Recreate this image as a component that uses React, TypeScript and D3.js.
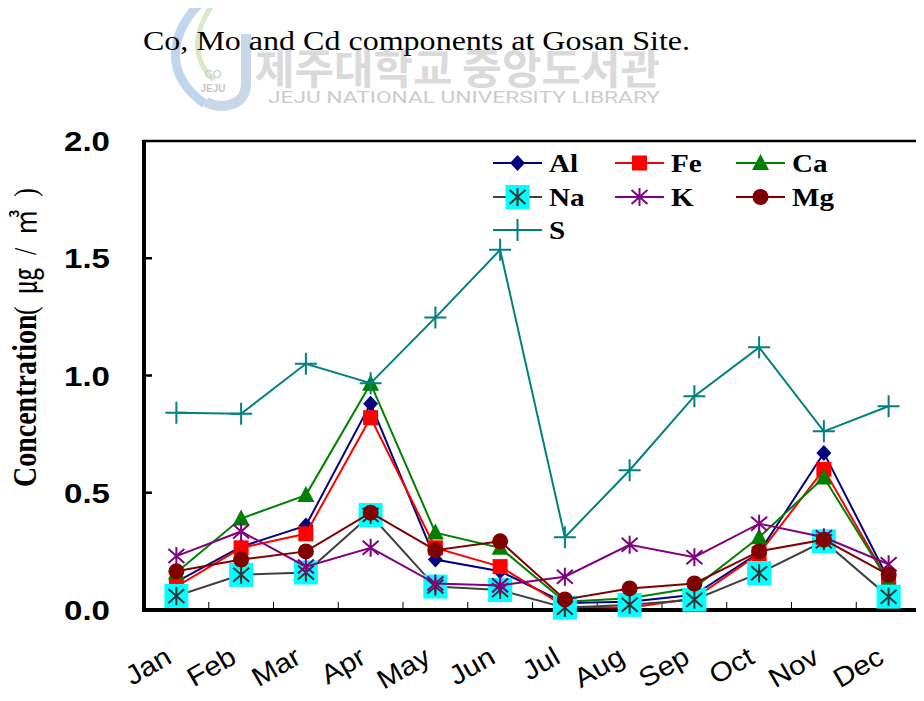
import React from 'react'
import * as d3 from 'd3'

// monthly concentration (ug/m3) at Gosan site
const months = ['Jan', 'Feb', 'Mar', 'Apr', 'May', 'Jun', 'Jul', 'Aug', 'Sep', 'Oct', 'Nov', 'Dec']
const al = [0.12, 0.27, 0.36, 0.88, 0.215, 0.165, 0.03, 0.035, 0.065, 0.245, 0.67, 0.13]
const fe = [0.1, 0.265, 0.325, 0.82, 0.265, 0.185, 0.015, 0.01, 0.05, 0.24, 0.6, 0.12]
const ca = [0.16, 0.39, 0.49, 0.965, 0.33, 0.265, 0.035, 0.05, 0.095, 0.31, 0.565, 0.12]
const na = [0.06, 0.15, 0.16, 0.405, 0.1, 0.085, 0.01, 0.022, 0.044, 0.157, 0.293, 0.057]
const k = [0.23, 0.335, 0.185, 0.265, 0.113, 0.105, 0.142, 0.278, 0.225, 0.368, 0.31, 0.195]
const mg = [0.165, 0.215, 0.25, 0.415, 0.255, 0.293, 0.045, 0.092, 0.113, 0.25, 0.3, 0.15]
const s = [0.841, 0.837, 1.05, 0.967, 1.247, 1.536, 0.31, 0.596, 0.912, 1.12, 0.762, 0.869]
const yTicks = [0, 0.5, 1.0, 1.5, 2.0]

const series = [
  { name: 'Al', values: al, color: '#000080', marker: 'diamond' },
  { name: 'Fe', values: fe, color: '#ff0000', marker: 'square' },
  { name: 'Ca', values: ca, color: '#008000', marker: 'triangle' },
  { name: 'Na', values: na, color: '#404040', marker: 'cyanStar' },
  { name: 'K', values: k, color: '#800080', marker: 'star' },
  { name: 'Mg', values: mg, color: '#800000', marker: 'circle' },
  { name: 'S', values: s, color: '#008080', marker: 'plus' },
]

const W = 924
const H = 701
const left = 144
const right = 921
const top = 141
const bottom = 610
const SX = 1.18 // the scanned figure is stretched sideways

const x = d3.scaleBand().domain(months).range([left, right]).padding(0)
const y = d3.scaleLinear().domain([0, 2]).range([bottom, top])
const cx = (m: string) => (x(m) as number) + x.bandwidth() / 2

const Marker = ({ type, color, px, py }: { type: string; color: string; px: number; py: number }) => {
  const t = `translate(${px},${py})`
  if (type === 'diamond') return <path transform={t} d="M0,-8L7.5,0L0,8L-7.5,0Z" fill={color} />
  if (type === 'square') return <rect transform={t} x={-7.5} y={-7.5} width={15} height={15} fill={color} />
  if (type === 'triangle') return <path transform={t} d="M0,-9L8.5,7L-8.5,7Z" fill={color} />
  if (type === 'circle') return <circle transform={t} r={8} fill={color} />
  if (type === 'plus')
    return <path transform={t} d="M-11,0H11M0,-11V11" stroke={color} strokeWidth={2} fill="none" />
  const star = 'M0,-9V9M-8,-7L8,7M-8,7L8,-7'
  if (type === 'cyanStar')
    return (
      <g transform={t}>
        <rect x={-12} y={-12} width={24} height={24} fill="#00ffff" />
        <path d={star} stroke="#333333" strokeWidth={2} fill="none" />
      </g>
    )
  return <path transform={t} d={star} stroke={color} strokeWidth={2} fill="none" />
}

export default function App() {
  const line = d3
    .line<number>()
    .x((_, i) => cx(months[i]))
    .y(d => y(d))

  const legendCols = [493, 615, 736]
  const legendRows = [163, 197, 230]

  return (
    <svg width={W} height={H} style={{ display: 'block', margin: -8 }} fontFamily="Liberation Serif">
      <rect width={W} height={H} fill="#fff" />

      {/* library watermark */}
      <g opacity={0.55}>
        <path d="M203,0 C172,30 160,72 205,104" stroke="#8fb6e0" strokeWidth={9} fill="none" />
        <path d="M216,0 C194,28 190,58 214,80" stroke="#b7d99a" strokeWidth={5} fill="none" />
        <path d="M246,34 V84 C246,106 222,110 206,102" stroke="#9db8d8" strokeWidth={10} fill="none" />
        <text x={213} y={78} fontSize={11} fill="#999" textAnchor="middle" fontFamily="Liberation Sans">CO</text>
        <text x={213} y={92} fontSize={10} fill="#999" textAnchor="middle" fontFamily="Liberation Sans" fontWeight="bold">JEJU</text>
      </g>
      <text x={255} y={84} fontSize={42} fill="#dadada" fontFamily="Noto Sans CJK KR" fontWeight="bold"
        textLength={405} lengthAdjust="spacingAndGlyphs">제주대학교 중앙도서관</text>
      <text x={268} y={103} fontSize={16} fill="#cccccc" fontFamily="Roboto"
        textLength={392} lengthAdjust="spacingAndGlyphs">JEJU NATIONAL UNIVERSITY LIBRARY</text>

      <text x={143} y={50} fontSize={27} fill="#000" textLength={547} lengthAdjust="spacingAndGlyphs">
        Co, Mo and Cd components at Gosan Site.
      </text>

      {/* frame */}
      <rect x={left} y={top} width={right - left} height={bottom - top} fill="none" stroke="#000" strokeWidth={2.5} />
      <line x1={left} x2={left} y1={top - 1} y2={bottom + 2} stroke="#000" strokeWidth={4} />
      <line x1={left - 2} x2={right + 1} y1={bottom} y2={bottom} stroke="#000" strokeWidth={4} />

      {yTicks.map(t => (
        <g key={t}>
          {t > 0 && t < 2 && <line x1={left} x2={left + 8} y1={y(t)} y2={y(t)} stroke="#000" strokeWidth={2.5} />}
          <text transform={`translate(110,${y(t) + 10}) scale(${SX},1)`} textAnchor="end" fontFamily="Liberation Sans"
            fontWeight="bold" fontSize={28}>{t.toFixed(1)}</text>
        </g>
      ))}

      {months.slice(1).map(m => (
        <line key={m} x1={x(m)} x2={x(m)} y1={bottom} y2={bottom - 8} stroke="#000" strokeWidth={1} />
      ))}
      {months.map(m => (
        <text key={m} transform={`translate(${cx(m) - 3},${bottom + 52}) rotate(-30) scale(1.1,1)`} textAnchor="end"
          fontFamily="Liberation Sans" fontSize={27}>{m}</text>
      ))}

      {/* y axis title, drawn bottom to top */}
      <g transform={`translate(36,487) scale(${SX},1) rotate(-90)`}>
        <text x={0} y={0} fontWeight="bold" fontSize={28}>Concentration</text>
        <text x={172} y={0} fontSize={26} textLength={127} lengthAdjust="spacing">
          (<tspan fontFamily="Noto Sans CJK KR">㎍</tspan>/<tspan fontFamily="Noto Sans CJK KR">㎥</tspan>)
        </text>
      </g>

      {/* series */}
      {series.map(sr => (
        <g key={sr.name}>
          <path d={line(sr.values) || ''} fill="none" stroke={sr.color} strokeWidth={2} />
          {sr.values.map((v, i) => (
            <Marker key={i} type={sr.marker} color={sr.color} px={cx(months[i])} py={y(v)} />
          ))}
        </g>
      ))}

      {/* legend */}
      {series.map((sr, i) => {
        const lx = legendCols[i % 3]
        const ly = legendRows[Math.floor(i / 3)]
        return (
          <g key={sr.name}>
            <line x1={lx} x2={lx + 49} y1={ly} y2={ly} stroke={sr.color} strokeWidth={2} />
            <Marker type={sr.marker} color={sr.color} px={lx + 24.5} py={ly} />
            <text transform={`translate(${lx + 56},${ly + 9}) scale(1.12,1)`} fontWeight="bold" fontSize={26}>{sr.name}</text>
          </g>
        )
      })}
    </svg>
  )
}
